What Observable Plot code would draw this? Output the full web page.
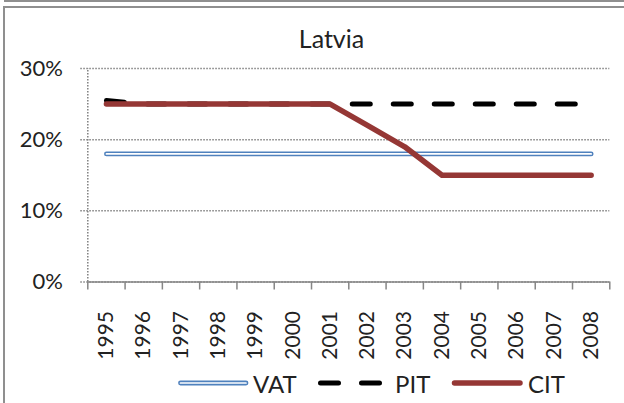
<!DOCTYPE html>
<html><head><meta charset="utf-8">
<script src="https://cdn.jsdelivr.net/npm/d3@7"></script>
<script src="https://cdn.jsdelivr.net/npm/@observablehq/plot@0.6"></script>
<style>
body{margin:0;background:#fff;}
#wrap{position:relative;width:624px;height:403px;overflow:hidden;font-family:Lato,sans-serif;color:#222;background:#fff;}
#prev{position:absolute;left:4px;top:0;width:640px;height:0;border-bottom:2px solid #8f8f8f;}
#frame{position:absolute;left:3px;top:6px;width:700px;height:500px;border-top:2px solid #8f8f8f;border-left:2px solid #8f8f8f;}
#title{position:absolute;left:0;top:23px;width:663px;text-align:center;font-size:25px;line-height:normal;}
#chart{position:absolute;left:0;top:0;}
.lg{position:absolute;}
.lgt{position:absolute;top:369px;font-size:24px;line-height:normal;}
</style></head>
<body>
<div id="wrap">
  <div id="prev"></div>
  <div id="frame"></div>
  <div id="chart"></div>
  <div id="title">Latvia</div>
</div>
<script>
const years = [1995,1996,1997,1998,1999,2000,2001,2002,2003,2004,2005,2006,2007,2008];
const vat = [0.18,0.18,0.18,0.18,0.18,0.18,0.18,0.18,0.18,0.18,0.18,0.18,0.18,0.18];
const pit = [0.255,0.25,0.25,0.25,0.25,0.25,0.25,0.25,0.25,0.25,0.25,0.25,0.25,0.25];
const cit = [0.25,0.25,0.25,0.25,0.25,0.25,0.25,0.22,0.19,0.15,0.15,0.15,0.15,0.15];
const yTicks = [0,0.1,0.2,0.3];
const seriesNames = ["VAT","PIT","CIT"];

const rows = (vals) => years.map((yr,i)=>({year:yr, value:vals[i]}));
const boundaries = years.map(y=>y-0.5).concat([years[years.length-1]+0.5]);

const plot = Plot.plot({
  width: 624, height: 362,
  marginLeft: 87.3, marginRight: 14.7, marginTop: 68, marginBottom: 80.5,
  x: {type:"linear", domain:[boundaries[0], boundaries[boundaries.length-1]]},
  y: {domain:[0,0.3]},
  style: {fontFamily:"Lato, sans-serif", color:"#222", background:"transparent", overflow:"visible"},
  marks: [
    Plot.ruleY(yTicks, {stroke:"#808080", strokeWidth:1.5, strokeDasharray:"1.5,1.5", insetLeft:-7}),
    Plot.ruleX([boundaries[0]], {y1:0, y2:0.3, stroke:"#808080", strokeWidth:1.5, strokeDasharray:"1.5,1.5"}),
    Plot.ruleY([0], {stroke:"#868686", strokeWidth:1.5}),
    Plot.axisX(boundaries, {tickSize:8, tickFormat:()=>"", stroke:"#868686", strokeWidth:1.5, label:null}),
    Plot.axisX(years, {tickSize:0, tickPadding:29, tickRotate:-90, tickFormat:d=>String(d), fontSize:21, label:null, fill:"#222"}),
    Plot.axisY(yTicks, {tickSize:0, tickPadding:25, tickFormat:d3.format(".0%"), fontSize:22, label:null, fill:"#222"}),
    Plot.line(rows(vat), {x:"year", y:"value", stroke:"#4f81bd", strokeWidth:4.8, strokeLinecap:"round"}),
    Plot.line(rows(vat), {x:"year", y:"value", stroke:"#ffffff", strokeWidth:1.7, strokeLinecap:"round"}),
    Plot.line(rows(pit), {x:"year", y:"value", stroke:"#000000", strokeWidth:5, strokeDasharray:"18,23", strokeLinecap:"round"}),
    Plot.line(rows(cit), {x:"year", y:"value", stroke:"#953735", strokeWidth:5.5, strokeLinecap:"round", strokeLinejoin:"round"})
  ]
});
document.getElementById("chart").appendChild(plot);

// legend
const wrap = document.getElementById("wrap");
const ns = "http://www.w3.org/2000/svg";
const legendDefs = [
  {name:seriesNames[0], left:176, text:253, lines:[{stroke:"#4f81bd", w:4.8},{stroke:"#fff", w:1.7}], x2:70},
  {name:seriesNames[1], left:316, text:395, lines:[{stroke:"#000", w:5, dash:"18,23"}], x2:64},
  {name:seriesNames[2], left:450, text:528, lines:[{stroke:"#953735", w:5.5}], x2:70}
];
for (const d of legendDefs) {
  const svg = document.createElementNS(ns, "svg");
  svg.setAttribute("width", 76); svg.setAttribute("height", 12);
  svg.setAttribute("class","lg");
  svg.style.left = d.left + "px"; svg.style.top = "377px";
  for (const l of d.lines) {
    const ln = document.createElementNS(ns, "line");
    ln.setAttribute("x1", 4.5); ln.setAttribute("x2", d.x2);
    ln.setAttribute("y1", 6); ln.setAttribute("y2", 6);
    ln.setAttribute("stroke", l.stroke); ln.setAttribute("stroke-width", l.w);
    ln.setAttribute("stroke-linecap","round");
    if (l.dash) ln.setAttribute("stroke-dasharray", l.dash);
    svg.appendChild(ln);
  }
  wrap.appendChild(svg);
  const t = document.createElement("div");
  t.className = "lgt"; t.style.left = d.text + "px"; t.textContent = d.name;
  wrap.appendChild(t);
}
</script>
</body></html>
